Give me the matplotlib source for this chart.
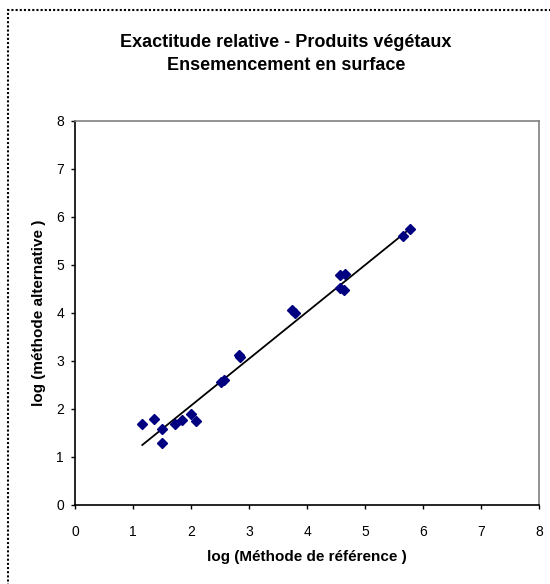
import matplotlib.pyplot as plt
from matplotlib.patches import Rectangle

plt.rcParams['font.family'] = ['Liberation Sans', 'DejaVu Sans']

# points
ref = [1.16, 1.37, 1.50, 1.50, 1.72, 1.85, 2.00, 2.08, 2.52, 2.57,
       2.83, 2.85, 3.74, 3.80, 4.57, 4.65, 4.57, 4.63, 5.66, 5.78]
alt = [1.69, 1.80, 1.59, 1.29, 1.68, 1.77, 1.90, 1.76, 2.56, 2.61,
       3.12, 3.08, 4.06, 4.00, 4.79, 4.81, 4.53, 4.47, 5.60, 5.76]
# trend line ends
trend_x = [1.16, 5.78]
trend_y = [1.25, 5.76]
ticks = [0, 1, 2, 3, 4, 5, 6, 7, 8]

fig = plt.figure(figsize=(5.5, 5.84), dpi=100)
fig.patches.append(Rectangle((8 / 550, -0.02), 1.0, (584 - 10) / 584 + 0.02,
                             transform=fig.transFigure, fill=False,
                             edgecolor='black', linewidth=1.5,
                             linestyle=(0, (1, 1))))

ax = fig.add_axes([75 / 550, 79 / 584, 464 / 550, 384 / 584])
ax.plot(trend_x, trend_y, color='black', linewidth=1.3, zorder=2)
ax.plot(ref, alt, linestyle='none', marker='D', markersize=5.5,
        color='#000080', zorder=3)

ax.set_xlim(0, 8)
ax.set_ylim(0, 8)
ax.set_xticks(ticks)
ax.set_yticks(ticks)
ax.tick_params(direction='out', length=3, width=1, labelsize=10)
ax.tick_params(axis='x', pad=11.5)
ax.tick_params(axis='y', pad=5)

for side in ['top', 'right']:
    ax.spines[side].set_color('#808080')
    ax.spines[side].set_linestyle((0, (1, 1)))
    ax.spines[side].set_linewidth(1.2)
for side in ['left', 'bottom']:
    ax.spines[side].set_color('black')
    ax.spines[side].set_linewidth(1.2)

ax.set_xlabel('log (Méthode de référence )', fontsize=11, fontweight='bold', labelpad=7.5)
ax.set_ylabel('log (méthode alternative )', fontsize=11, fontweight='bold', labelpad=7)

fig.text(0.52, 0.907, 'Exactitude relative - Produits végétaux\nEnsemencement en surface',
         ha='center', va='center', fontsize=13, fontweight='bold', linespacing=1.45)

fig.savefig('out.png', dpi=100)
